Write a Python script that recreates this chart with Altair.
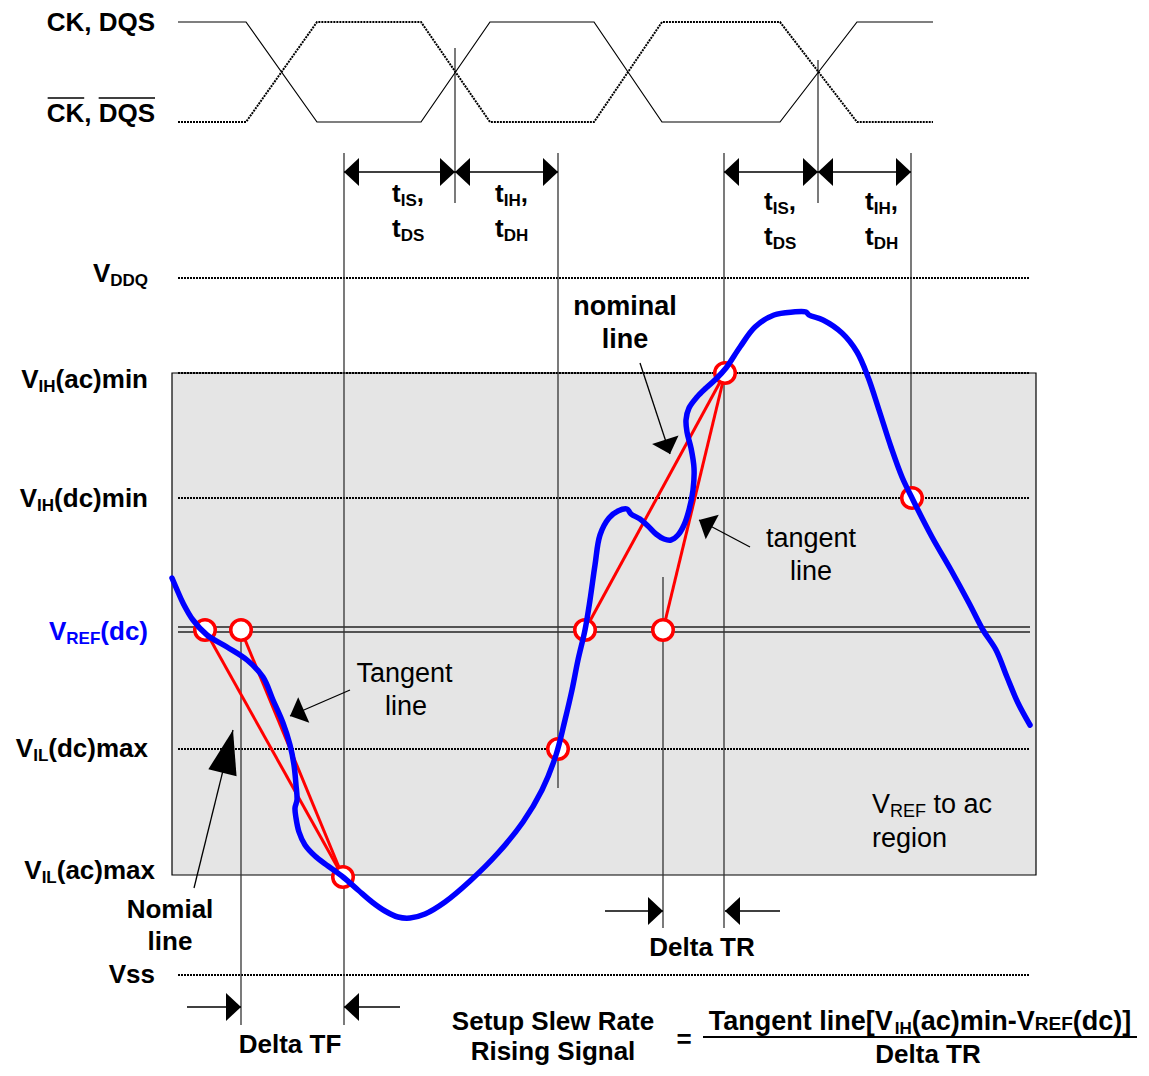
import math
import altair as alt
import pandas as pd

# ---------------- values (pixel coordinates) ----------------
# clock waveforms (CK solid, CK# dotted)
CK_X = [178, 246, 317, 421, 490, 594, 662, 780, 857, 933]
CK_Y = [22, 22, 122, 122, 22, 22, 122, 122, 22, 22]
CKB_Y = [122, 122, 22, 22, 122, 122, 22, 22, 122, 122]

# voltage levels
LEVEL_NAMES = ["VDDQ", "VIH(ac)min", "VIH(dc)min", "VIL(dc)max", "Vss"]
LEVEL_Y = [278, 373, 498, 749, 975]
VREF_Y = [627, 632]
LEVEL_X = [178, 1030]
BOX_X = [172, 1036]
BOX_Y = [373, 875]

# vertical timing lines
VLINE_X = [455, 818, 344, 558, 724, 911, 663, 241]
VLINE_Y1 = [48, 60, 153, 153, 153, 153, 577, 640]
VLINE_Y2 = [203, 203, 1025, 788, 928, 493, 928, 1025]

# dimension arrows (shafts and heads)
DIM_X1 = [344, 455, 724, 818, 187, 344, 605, 725]
DIM_X2 = [455, 558, 818, 911, 241, 400, 663, 780]
DIM_Y = [172, 172, 172, 172, 1007, 1007, 911, 911]
HEAD_X = [344, 455, 455, 558, 724, 818, 818, 911, 241, 344, 663, 725]
HEAD_Y = [172, 172, 172, 172, 172, 172, 172, 172, 1007, 1007, 911, 911]
HEAD_DIR = [180, 0, 180, 0, 180, 0, 180, 0, 0, 180, 0, 180]

# annotation arrows: start -> tip
ANN_X1 = [640, 750, 350, 194]
ANN_Y1 = [363, 547, 690, 888]
ANN_X2 = [670, 699, 290, 233]
ANN_Y2 = [454, 520, 716, 730]
ANN_BIG = [False, False, False, True]

# red nominal / tangent lines
RED_X1 = [205, 241, 585, 663]
RED_Y1 = [630, 630, 630, 630]
RED_X2 = [343, 343, 725, 725]
RED_Y2 = [877, 877, 373, 373]

# red circles
CIRC_X = [205, 241, 343, 558, 585, 663, 725, 912]
CIRC_Y = [630, 630, 877, 749, 630, 630, 373, 498]

# blue signal trace
SIG_X = [172, 178, 183, 193, 207, 227, 247, 263, 273, 283, 290, 294, 296, 297, 295, 296, 299,
         305, 315, 328, 343, 358, 372, 385, 398, 410, 425, 445, 470, 498, 523, 542, 556, 565,
         572, 578, 585, 590, 595, 600, 609, 618, 627, 631, 640, 648, 656, 664, 671, 678, 684,
         689, 693, 694, 691, 687, 686, 689, 697, 706, 716, 726, 740, 755, 774, 793, 806, 809,
         823, 842, 857, 868, 879, 891, 902, 913, 932, 951, 969, 983, 996, 1007, 1018, 1030]
SIG_Y = [578, 592, 603, 620, 635, 647, 660, 677, 700, 723, 745, 765, 785, 800, 808, 818, 832,
         845, 856, 866, 877, 890, 902, 911, 917, 918, 914, 902, 881, 853, 822, 790, 755, 720,
         690, 660, 630, 600, 565, 535, 518, 511, 509, 514, 519, 526, 534, 539, 540, 535, 525,
         510, 490, 468, 448, 432, 420, 408, 397, 388, 379, 368, 347, 327, 315, 312, 312, 315,
         320, 333, 352, 377, 410, 447, 477, 500, 537, 570, 603, 630, 650, 677, 703, 725]

# ---------------- text ----------------
AB = {' ': 278, '(': 333, ')': 333, ',': 278, '-': 333, '[': 333, ']': 333, '=': 584,
      'A': 722, 'C': 722, 'D': 722, 'E': 667, 'F': 611, 'H': 722, 'I': 278, 'K': 722,
      'L': 611, 'N': 722, 'Q': 778, 'R': 722, 'S': 667, 'T': 611, 'V': 667,
      'a': 556, 'c': 556, 'd': 611, 'e': 556, 'g': 611, 'i': 278, 'l': 278, 'm': 889,
      'n': 611, 'o': 611, 'p': 611, 'r': 389, 's': 556, 't': 333, 'u': 611, 'w': 778, 'x': 556}
AR = {' ': 278, '(': 333, ')': 333, 'E': 667, 'F': 611, 'R': 722, 'T': 611, 'V': 667,
      'a': 556, 'c': 500, 'e': 556, 'g': 556, 'i': 222, 'l': 222, 'n': 556, 'o': 556,
      'r': 333, 't': 278}

BIG, SUB = 26, 17
# (runs, x, anchor, baseline, bold, color)   runs = [(text, size, dy)]
LABELS = [
    ([("CK, DQS", BIG, 0)], 155, "right", 31, True, "black"),
    ([("CK, DQS", BIG, 0)], 155, "right", 122, True, "black"),
    ([("V", BIG, 0), ("DDQ", SUB, 4)], 148, "right", 282, True, "black"),
    ([("V", BIG, 0), ("IH", SUB, 4), ("(ac)min", BIG, 0)], 148, "right", 388, True, "black"),
    ([("V", BIG, 0), ("IH", SUB, 4), ("(dc)min", BIG, 0)], 148, "right", 507, True, "black"),
    ([("V", BIG, 0), ("REF", SUB, 4), ("(dc)", BIG, 0)], 148, "right", 640, True, "#0000ff"),
    ([("V", BIG, 0), ("IL", SUB, 4), ("(dc)max", BIG, 0)], 148, "right", 757, True, "black"),
    ([("V", BIG, 0), ("IL", SUB, 4), ("(ac)max", BIG, 0)], 155, "right", 879, True, "black"),
    ([("Vss", BIG, 0)], 155, "right", 983, True, "black"),
    ([("t", BIG, 0), ("IS", SUB, 4), (",", BIG, 0)], 392, "left", 202, True, "black"),
    ([("t", BIG, 0), ("DS", SUB, 4)], 392, "left", 237, True, "black"),
    ([("t", BIG, 0), ("IH", SUB, 4), (",", BIG, 0)], 495, "left", 202, True, "black"),
    ([("t", BIG, 0), ("DH", SUB, 4)], 495, "left", 237, True, "black"),
    ([("t", BIG, 0), ("IS", SUB, 4), (",", BIG, 0)], 764, "left", 210, True, "black"),
    ([("t", BIG, 0), ("DS", SUB, 4)], 764, "left", 245, True, "black"),
    ([("t", BIG, 0), ("IH", SUB, 4), (",", BIG, 0)], 865, "left", 210, True, "black"),
    ([("t", BIG, 0), ("DH", SUB, 4)], 865, "left", 245, True, "black"),
    ([("nominal", 27, 0)], 625, "center", 315, True, "black"),
    ([("line", 27, 0)], 625, "center", 348, True, "black"),
    ([("Nomial", BIG, 0)], 170, "center", 918, True, "black"),
    ([("line", BIG, 0)], 170, "center", 950, True, "black"),
    ([("Delta TF", BIG, 0)], 290, "center", 1053, True, "black"),
    ([("Delta TR", BIG, 0)], 702, "center", 956, True, "black"),
    ([("Setup Slew Rate", BIG, 0)], 553, "center", 1030, True, "black"),
    ([("Rising Signal", BIG, 0)], 553, "center", 1060, True, "black"),
    ([("=", BIG, 0)], 684, "center", 1048, True, "black"),
    ([("Tangent line[V", 27, 0), ("IH", SUB, 4), ("(ac)min-V", 27, 0), ("REF", 19, 0),
      ("(dc)]", 27, 0)], 920, "center", 1030, True, "black"),
    ([("Delta TR", BIG, 0)], 928, "center", 1063, True, "black"),
    ([("Tangent", 27, 0)], 406, "center", 682, False, "black"),
    ([("line", 27, 0)], 406, "center", 715, False, "black"),
    ([("tangent", 27, 0)], 811, "center", 547, False, "black"),
    ([("line", 27, 0)], 811, "center", 580, False, "black"),
    ([("V", 27, 0), ("REF", 18, 4), (" to ac", 27, 0)], 872, "left", 813, False, "black"),
    ([("region", 27, 0)], 872, "left", 847, False, "black"),
]


def text_width(s, size, bold):
    table = AB if bold else AR
    return sum(table.get(c, 556) for c in s) / 1000.0 * size


rows_bold, rows_norm = [], []
label_extent = {}
for k, (runs, x, anchor, base, bold, color) in enumerate(LABELS):
    total = sum(text_width(t, s, bold) for t, s, _ in runs)
    left = x if anchor == "left" else (x - total if anchor == "right" else x - total / 2)
    label_extent[k] = (left, left + total)
    cur = left
    for t, s, dy in runs:
        stripped = t.lstrip(" ")
        lead = text_width(t[:len(t) - len(stripped)], s, bold)
        row = dict(x=cur + lead, y=base + dy, text=stripped, size=s, color=color)
        (rows_bold if bold else rows_norm).append(row)
        cur += text_width(t, s, bold)

# overlines of CK#, DQS# and the fraction bar
ck_left = label_extent[1][0]
OVER_X1 = [ck_left + 1, ck_left + text_width("CK, ", BIG, True)]
OVER_X2 = [ck_left + text_width("CK", BIG, True), label_extent[1][1]]
OVER_Y = [98, 98]
FRAC_X = [703, 1137]
FRAC_Y = 1037

# ---------------- chart ----------------
xs = alt.Scale(domain=[8, 1141], nice=False, zero=False)
ys = alt.Scale(domain=[8, 1068], nice=False, zero=False, reverse=True)


def X(f):
    return alt.X(f, type="quantitative", scale=xs, axis=None)


def Y(f):
    return alt.Y(f, type="quantitative", scale=ys, axis=None)


HEAD_PATH = "M0,0L-1,-0.93L-1,0.93Z"
BIG_HEAD_PATH = "M0,0L-1,-0.33L-1,0.33Z"
FONT = "Liberation Sans"

box = alt.Chart(pd.DataFrame({"x1": [BOX_X[0]], "x2": [BOX_X[1]], "y1": [BOX_Y[0]], "y2": [BOX_Y[1]]})).mark_rect(
    fill="#e5e5e5", stroke="black", strokeWidth=1.2).encode(x=X("x1"), x2=alt.X2("x2"), y=Y("y1"), y2=alt.Y2("y2"))

levels = alt.Chart(pd.DataFrame({"name": LEVEL_NAMES, "y": LEVEL_Y, "x1": LEVEL_X[0], "x2": LEVEL_X[1]})).mark_rule(
    color="black", strokeWidth=2, strokeDash=[2, 1]).encode(x=X("x1"), x2=alt.X2("x2"), y=Y("y"))

vref = alt.Chart(pd.DataFrame({"y": VREF_Y, "x1": LEVEL_X[0], "x2": LEVEL_X[1]})).mark_rule(
    color="#222222", strokeWidth=1.3).encode(x=X("x1"), x2=alt.X2("x2"), y=Y("y"))

vlines = alt.Chart(pd.DataFrame({"x": VLINE_X, "y1": VLINE_Y1, "y2": VLINE_Y2})).mark_rule(
    color="#333333", strokeWidth=1.3).encode(x=X("x"), y=Y("y1"), y2=alt.Y2("y2"))

ck = alt.Chart(pd.DataFrame({"x": CK_X, "y": CK_Y, "i": range(len(CK_X))})).mark_line(
    color="black", strokeWidth=1.2).encode(x=X("x"), y=Y("y"), order="i:Q")
ckb = alt.Chart(pd.DataFrame({"x": CK_X, "y": CKB_Y, "i": range(len(CK_X))})).mark_line(
    color="black", strokeWidth=2, strokeDash=[2, 1]).encode(x=X("x"), y=Y("y"), order="i:Q")

dims = alt.Chart(pd.DataFrame({"x1": DIM_X1, "x2": DIM_X2, "y": DIM_Y})).mark_rule(
    color="black", strokeWidth=1.4).encode(x=X("x1"), x2=alt.X2("x2"), y=Y("y"))
heads = alt.Chart(pd.DataFrame({"x": HEAD_X, "y": HEAD_Y, "angle": HEAD_DIR})).mark_point(
    shape=HEAD_PATH, filled=True, size=900, color="black", opacity=1, strokeWidth=0).encode(
    x=X("x"), y=Y("y"), angle=alt.Angle("angle:Q", scale=None))

ann_angle = [(math.degrees(math.atan2(y2 - y1, x2 - x1)) + 360) % 360
             for x1, y1, x2, y2 in zip(ANN_X1, ANN_Y1, ANN_X2, ANN_Y2)]
ann_df = pd.DataFrame({"x1": ANN_X1, "y1": ANN_Y1, "x2": ANN_X2, "y2": ANN_Y2, "angle": ann_angle, "big": ANN_BIG})
ann_shafts = alt.Chart(ann_df).mark_rule(color="black", strokeWidth=1.3).encode(
    x=X("x1"), y=Y("y1"), x2=alt.X2("x2"), y2=alt.Y2("y2"))
ann_small = alt.Chart(ann_df[~ann_df["big"]]).mark_point(
    shape=HEAD_PATH, filled=True, size=900, color="black", opacity=1, strokeWidth=0).encode(
    x=X("x2"), y=Y("y2"), angle=alt.Angle("angle:Q", scale=None))
ann_big = alt.Chart(ann_df[ann_df["big"]]).mark_point(
    shape=BIG_HEAD_PATH, filled=True, size=7744, color="black", opacity=1, strokeWidth=0).encode(
    x=X("x2"), y=Y("y2"), angle=alt.Angle("angle:Q", scale=None))

red = alt.Chart(pd.DataFrame({"x1": RED_X1, "y1": RED_Y1, "x2": RED_X2, "y2": RED_Y2})).mark_rule(
    color="#ff0000", strokeWidth=3).encode(x=X("x1"), y=Y("y1"), x2=alt.X2("x2"), y2=alt.Y2("y2"))

circles = alt.Chart(pd.DataFrame({"x": CIRC_X, "y": CIRC_Y})).mark_point(
    shape="circle", filled=True, fill="white", stroke="#ff0000", strokeWidth=3.5, size=420, opacity=1).encode(
    x=X("x"), y=Y("y"))

signal = alt.Chart(pd.DataFrame({"x": SIG_X, "y": SIG_Y, "i": range(len(SIG_X))})).mark_line(
    color="#0000ff", strokeWidth=5.5, interpolate="catmull-rom", strokeCap="round", strokeJoin="round").encode(
    x=X("x"), y=Y("y"), order="i:Q")

overlines = alt.Chart(pd.DataFrame({"x1": OVER_X1, "x2": OVER_X2, "y": OVER_Y})).mark_rule(
    color="black", strokeWidth=1.6).encode(x=X("x1"), x2=alt.X2("x2"), y=Y("y"))
frac = alt.Chart(pd.DataFrame({"x1": [FRAC_X[0]], "x2": [FRAC_X[1]], "y": [FRAC_Y]})).mark_rule(
    color="black", strokeWidth=2).encode(x=X("x1"), x2=alt.X2("x2"), y=Y("y"))

txt_bold = alt.Chart(pd.DataFrame(rows_bold)).mark_text(
    align="left", baseline="alphabetic", font=FONT, fontWeight="bold").encode(
    x=X("x"), y=Y("y"), text="text:N", size=alt.Size("size:Q", scale=None), color=alt.Color("color:N", scale=None))
txt_norm = alt.Chart(pd.DataFrame(rows_norm)).mark_text(
    align="left", baseline="alphabetic", font=FONT, fontWeight="normal").encode(
    x=X("x"), y=Y("y"), text="text:N", size=alt.Size("size:Q", scale=None), color=alt.Color("color:N", scale=None))

chart = alt.layer(
    box, levels, vref, vlines, ck, ckb, dims, heads, red, circles, signal,
    ann_shafts, ann_small, ann_big, overlines, frac, txt_bold, txt_norm
).properties(
    width=1133, height=1060, autosize="none", padding=0, background="white"
).configure_view(strokeWidth=0)

chart.save("out.html", embed_options={"renderer": "svg", "actions": False})
